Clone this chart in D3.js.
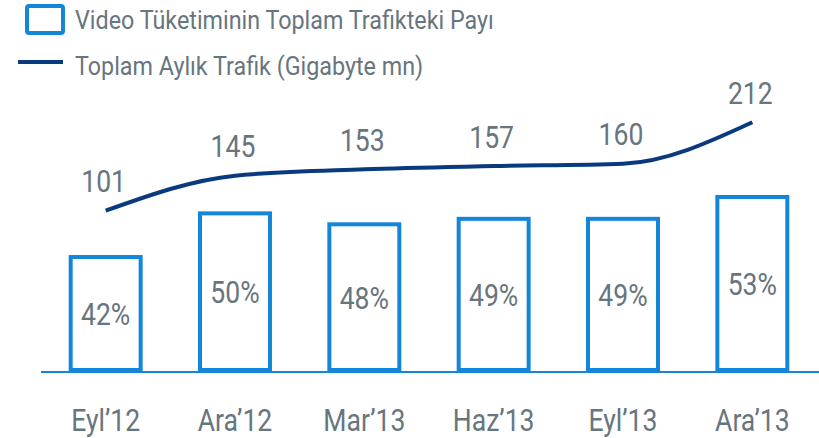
<!DOCTYPE html>
<html>
<head>
<meta charset="utf-8">
<script src="https://cdn.jsdelivr.net/npm/d3@7"></script>
<style>
  body { margin: 0; background: #fff; }
  text { font-family: Roboto, "Noto Sans", sans-serif; fill: #67757e; }
</style>
</head>
<body>
<svg id="chart" width="819" height="438"></svg>
<script>
var periods = ["Eyl’12", "Ara’12", "Mar’13", "Haz’13", "Eyl’13", "Ara’13"];
var videoShare = [42, 50, 48, 49, 49, 53];
var traffic = [101, 145, 153, 157, 160, 212];
var legendLabels = ["Video Tüketiminin Toplam Trafikteki Payı", "Toplam Aylık Trafik (Gigabyte mn)"];

var barBlue = "#1386da";
var navy = "#0a3a7e";
var squeeze = 0.83; // fake a condensed face

var svg = d3.select("#chart");

var xScale = d3.scaleBand()
  .domain(periods)
  .range([41, 817])
  .paddingInner(0.459)
  .paddingOuter(0.2295);

var yBar = d3.scaleLinear()
  .domain([21.3, 53])
  .range([370, 197]);

var yLine = d3.scaleLinear()
  .domain([101, 212])
  .range([210.7, 122.3]);

function cx(d) { return xScale(d) + xScale.bandwidth() / 2; }

function condensed(sel, x, y, s) {
  return sel.attr("transform", "translate(" + x + "," + y + ") scale(" + (s || squeeze) + ",1)");
}

//////////////////////////// LEGEND ////////////////////////////
svg.append("rect")
  .attr("x", 27).attr("y", 6)
  .attr("width", 36).attr("height", 27)
  .attr("rx", 2)
  .attr("fill", "#fff")
  .attr("stroke", barBlue)
  .attr("stroke-width", 4);

svg.append("line")
  .attr("x1", 18).attr("x2", 63)
  .attr("y1", 62).attr("y2", 62)
  .attr("stroke", navy)
  .attr("stroke-width", 4);

legendLabels.forEach(function(t, i) {
  svg.append("text")
    .text(t)
    .attr("font-size", 26.5)
    .call(condensed, 75, 29 + i * 46, 0.88);
});

//////////////////////////// BARS ////////////////////////////
var bars = svg.selectAll(".bar")
  .data(videoShare)
  .enter()
  .append("g")
  .attr("class", "bar");

bars.append("rect")
  .attr("x", function(d, i) { return xScale(periods[i]); })
  .attr("y", function(d) { return yBar(d); })
  .attr("width", xScale.bandwidth())
  .attr("height", function(d) { return yBar.range()[0] - yBar(d); })
  .attr("fill", "#fff")
  .attr("stroke", barBlue)
  .attr("stroke-width", 4);

bars.append("text")
  .text(function(d) { return d + "%"; })
  .attr("font-size", 32)
  .attr("text-anchor", "middle")
  .attr("dy", "0.36em")
  .each(function(d, i) {
    condensed(d3.select(this), cx(periods[i]), (yBar(d) + yBar.range()[0]) / 2);
  });

// baseline
svg.append("line")
  .attr("x1", 41).attr("x2", 819)
  .attr("y1", 372).attr("y2", 372)
  .attr("stroke", barBlue)
  .attr("stroke-width", 2);

//////////////////////////// LINE ////////////////////////////
var line = d3.line()
  .x(function(d, i) { return cx(periods[i]); })
  .y(function(d) { return yLine(d); })
  .curve(d3.curveMonotoneX);

svg.append("path")
  .datum(traffic)
  .attr("d", line)
  .attr("fill", "none")
  .attr("stroke", navy)
  .attr("stroke-width", 4);

svg.selectAll(".val")
  .data(traffic)
  .enter()
  .append("text")
  .attr("class", "val")
  .text(function(d) { return d; })
  .attr("font-size", 32)
  .attr("text-anchor", "middle")
  .each(function(d, i) {
    condensed(d3.select(this), cx(periods[i]) - 2, yLine(d) - 18.5);
  });

//////////////////////////// X LABELS ////////////////////////////
svg.selectAll(".xlab")
  .data(periods)
  .enter()
  .append("text")
  .attr("class", "xlab")
  .text(function(d) { return d; })
  .attr("font-size", 32)
  .attr("text-anchor", "middle")
  .each(function(d) {
    condensed(d3.select(this), cx(d), 431);
  });
</script>
</body>
</html>
